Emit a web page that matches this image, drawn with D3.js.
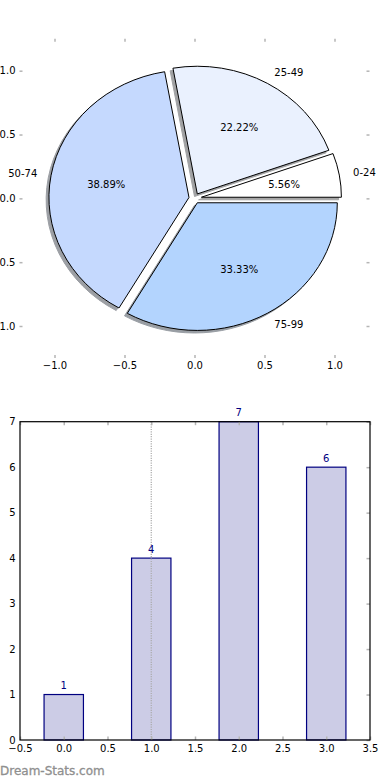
<!DOCTYPE html>
<html><head><meta charset="utf-8">
<script src="https://cdn.jsdelivr.net/npm/d3@7"></script>
<style>
html,body{margin:0;padding:0;background:#fff;}
svg{display:block;font-family:"DejaVu Sans",sans-serif;}
</style></head><body>
<svg id="c" width="390" height="780"></svg>
<script>
// ---- data ----
const pieLabels = ["0-24", "25-49", "50-74", "75-99"];
const pieCounts = [1, 4, 7, 6];
const pieColors = ["#ffffff", "#eaf1fe", "#c5d9fe", "#b3d4fe"];
const pieTicks = [-1.0, -0.5, 0.0, 0.5, 1.0];

const barCategories = [0, 1, 2, 3];
const barValues = [1, 4, 7, 6];
const barXTicks = [-0.5, 0, 0.5, 1, 1.5, 2, 2.5, 3, 3.5];
const barYTicks = [0, 1, 2, 3, 4, 5, 6, 7];

// ---- styles ----
const explode = [0.05, 0.04, 0.04, 0.04];
const tickGrey = "#b5b5b5";
const fmt1 = d3.format(".1f");

const svg = d3.select("#c");

// ================= PIE =================
const px = d3.scaleLinear().domain([-1, 1]).range([54.5, 334.5]);
const py = d3.scaleLinear().domain([-1, 1]).range([326, 70.7]);
const sx = px(1) - px(0), sy = py(0) - py(1);
const total = d3.sum(pieCounts);

const pie = d3.pie().sort(null).startAngle(Math.PI / 2).endAngle(Math.PI / 2 - 2 * Math.PI);
const arcs = pie(pieCounts);
const arc = d3.arc().innerRadius(0).outerRadius(1);
arcs.forEach((a, i) => {
  const mid = (a.startAngle + a.endAngle) / 2;
  a.ux = Math.sin(mid); a.uy = Math.cos(mid);
  a.ox = explode[i] * a.ux; a.oy = explode[i] * a.uy;
  a.color = pieColors[i]; a.label = pieLabels[i];
});

const pieG = svg.append("g");
// shadows
pieG.selectAll("path.sh").data(arcs).enter().append("path")
  .attr("class", "sh")
  .attr("transform", d => `translate(${px(d.ox - 0.02)},${py(d.oy - 0.02)}) scale(${sx},${sy})`)
  .attr("d", arc)
  .attr("fill", d => { const c = d3.rgb(d.color); return d3.rgb(c.r * 0.3, c.g * 0.3, c.b * 0.3); })
  .attr("stroke", d => { const c = d3.rgb(d.color); return d3.rgb(c.r * 0.3, c.g * 0.3, c.b * 0.3); })
  .attr("opacity", 0.5)
  .attr("stroke-width", 1)
  .attr("vector-effect", "non-scaling-stroke");
// wedges
pieG.selectAll("path.w").data(arcs).enter().append("path")
  .attr("class", "w")
  .attr("transform", d => `translate(${px(d.ox)},${py(d.oy)}) scale(${sx},${sy})`)
  .attr("d", arc)
  .attr("fill", d => d.color)
  .attr("stroke", "#000")
  .attr("stroke-width", 1)
  .attr("vector-effect", "non-scaling-stroke");
// labels
pieG.selectAll("text.lab").data(arcs).enter().append("text")
  .attr("x", d => px(d.ox + 1.1 * d.ux))
  .attr("y", d => py(d.oy + 1.1 * d.uy) + 3.6)
  .attr("text-anchor", d => d.ux > 0 ? "start" : "end")
  .attr("font-size", 10).attr("fill", "#000")
  .text(d => d.label);
pieG.selectAll("text.pct").data(arcs).enter().append("text")
  .attr("x", d => px(d.ox + 0.6 * d.ux))
  .attr("y", d => py(d.oy + 0.6 * d.uy) + 3.6)
  .attr("text-anchor", "middle")
  .attr("font-size", 10).attr("fill", "#000")
  .text(d => d3.format(".2f")(d.value / total * 100) + "%");

// pie axes (frame off, ticks only)
const pL = px(-1.25), pR = px(1.25), pT = py(1.25), pB = py(-1.25);
function styleAxis(g, hideText) {
  g.select(".domain").remove();
  g.selectAll(".tick line").attr("stroke", tickGrey).attr("stroke-width", 1.5);
  g.selectAll(".tick text").attr("font-size", 10).attr("fill", "#000")
    .attr("font-family", "DejaVu Sans, sans-serif");
  if (hideText) g.selectAll(".tick text").remove();
}
svg.append("g").attr("transform", `translate(0,${pB})`)
  .call(d3.axisBottom(px).tickValues(pieTicks).tickSize(-3).tickPadding(3.5).tickFormat(fmt1))
  .call(g => styleAxis(g, false));
svg.append("g").attr("transform", `translate(0,${pT})`)
  .call(d3.axisTop(px).tickValues(pieTicks).tickSize(-3).tickFormat(""))
  .call(g => styleAxis(g, true));
svg.append("g").attr("transform", `translate(${pL},0)`)
  .call(d3.axisLeft(py).tickValues(pieTicks).tickSize(-3).tickPadding(4).tickFormat(fmt1))
  .call(g => styleAxis(g, false));
svg.append("g").attr("transform", `translate(${pR},0)`)
  .call(d3.axisRight(py).tickValues(pieTicks).tickSize(-3).tickFormat(""))
  .call(g => styleAxis(g, true));

// ================= BAR =================
const bx = d3.scaleLinear().domain([-0.5, 3.5]).range([20, 370]);
const by = d3.scaleLinear().domain([0, 7]).range([740, 421.7]);
const barW = 0.45;

const barG = svg.append("g");
barG.selectAll("rect.bar").data(barCategories).enter().append("rect")
  .attr("x", (c) => bx(c - barW / 2))
  .attr("y", (c, i) => by(barValues[i]))
  .attr("width", bx(barW) - bx(0))
  .attr("height", (c, i) => by(0) - by(barValues[i]))
  .attr("fill", "#ccccE6")
  .attr("stroke", "#000080")
  .attr("stroke-width", 1.2);

// dotted vertical line at x = 1
barG.append("line")
  .attr("x1", bx(1)).attr("x2", bx(1))
  .attr("y1", by(7)).attr("y2", by(0))
  .attr("stroke", "#aaa").attr("stroke-width", 1.2)
  .attr("stroke-dasharray", "1.2,1.2");

// value labels
barG.selectAll("text.val").data(barCategories).enter().append("text")
  .attr("x", c => bx(c))
  .attr("y", (c, i) => by(barValues[i]) - 5.5)
  .attr("text-anchor", "middle")
  .attr("font-size", 10).attr("fill", "#000080")
  .text((c, i) => barValues[i]);

// axes
svg.append("g").attr("transform", `translate(0,${by(0)})`)
  .call(d3.axisBottom(bx).tickValues(barXTicks).tickSize(-3.5).tickPadding(5).tickFormat(fmt1))
  .call(g => styleAxis(g, false));
svg.append("g").attr("transform", `translate(0,${by(7)})`)
  .call(d3.axisTop(bx).tickValues(barXTicks).tickSize(-3.5).tickFormat(""))
  .call(g => styleAxis(g, true));
svg.append("g").attr("transform", `translate(${bx(-0.5)},0)`)
  .call(d3.axisLeft(by).tickValues(barYTicks).tickSize(0).tickPadding(4.5).tickFormat(d3.format("d")))
  .call(g => styleAxis(g, false));
svg.append("g").attr("transform", `translate(${bx(3.5)},0)`)
  .call(d3.axisRight(by).tickValues(barYTicks).tickSize(-3.5).tickFormat(""))
  .call(g => styleAxis(g, true));

// frame
svg.append("rect")
  .attr("x", bx(-0.5)).attr("y", by(7))
  .attr("width", bx(3.5) - bx(-0.5)).attr("height", by(0) - by(7))
  .attr("fill", "none").attr("stroke", "#000").attr("stroke-width", 1.2);

// watermark
svg.append("text").attr("x", 0).attr("y", 775)
  .attr("font-size", 12).attr("fill", "#8f8f8f")
  .attr("stroke", "#8f8f8f").attr("stroke-width", 0.3)
  .text("Dream-Stats.com");
</script>
</body></html>
